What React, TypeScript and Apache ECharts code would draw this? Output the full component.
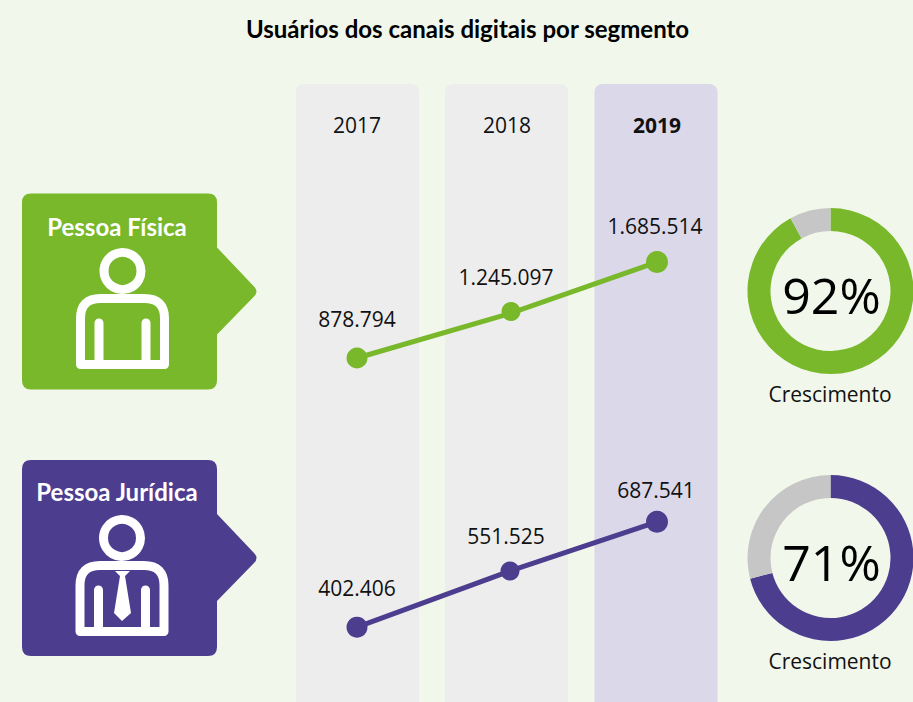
import React, { useEffect, useRef } from "react";
import * as echarts from "echarts";

const title = "Usuários dos canais digitais por segmento";
const years = ["2017", "2018", "2019"];
const pessoaFisica = [878794, 1245097, 1685514];
const pessoaJuridica = [402406, 551525, 687541];
const pointSizesFisica = [21, 19, 22];
const pointSizesJuridica = [21, 19, 22];
const growthFisica = [92, 8];
const growthJuridica = [71, 29];
const growthLabel = "Crescimento";
const segmentFisica = "Pessoa Física";
const segmentJuridica = "Pessoa Jurídica";

const GREEN = "#78B82A";
const PURPLE = "#4D3D8F";
const GRAY = "#C6C6C6";
const BG = "#F1F7EA";
const FONT = "'Open Sans', 'Noto Sans', sans-serif";
const TITLE_FONT = "Lato, 'Open Sans', sans-serif";

const fmt = (v: number) => String(v).replace(/\B(?=(\d{3})+(?!\d))/g, ".");

const TAG_PATH =
  "M9 0 L186 0 Q195 0 195 9 L195 54 L232 93 Q237 98 232 103 L195 141 L195 187 Q195 196 186 196 L9 196 Q0 196 0 187 L0 9 Q0 0 9 0 Z";
const BODY_PATH = "M0 66 L0 20 Q0 0 20 0 L64 0 Q84 0 84 20 L84 66 Z";
echarts.graphic.registerShape("segmentTagShape", (echarts.graphic as any).extendPath(TAG_PATH, {}));
echarts.graphic.registerShape("personBody", (echarts.graphic as any).extendPath(BODY_PATH, {}));

function column(x: number, fill: string) {
  return {
    type: "rect",
    z: -10,
    shape: { x, y: 84, width: 123, height: 630, r: [8, 8, 0, 0] },
    style: { fill },
    silent: true,
  };
}

function person(cx: number, headY: number, bodyTop: number, armTop: number, armBottom: number, tie: boolean) {
  const stroke = { stroke: "#fff", lineWidth: 9, fill: "none" };
  const arms = [cx - 23.5, cx + 23.5].map((x) => ({
    type: "line",
    z: 6,
    shape: { x1: x, y1: armTop, x2: x, y2: armBottom },
    style: { stroke: "#fff", lineWidth: 9, lineCap: "round" },
  }));
  const els: any[] = [
    { type: "circle", z: 6, shape: { cx, cy: headY, r: 18.5 }, style: stroke },
    { type: "personBody", z: 6, x: cx - 42, y: bodyTop, style: { ...stroke, lineJoin: "round" } },
    ...arms,
  ];
  if (tie) {
    els.push({
      type: "polygon",
      z: 6,
      shape: {
        points: [
          [cx - 7, 571],
          [cx + 8, 571],
          [cx + 3, 576],
          [cx + 9, 613],
          [cx, 621],
          [cx - 8, 613],
          [cx - 2, 576],
        ],
      },
      style: { fill: "#fff" },
    });
  }
  return els;
}

function tagText(text: string, x: number, y: number) {
  return {
    type: "text",
    z: 7,
    x,
    y,
    style: {
      text,
      fill: "#fff",
      font: `bold 24px ${TITLE_FONT}`,
      align: "center",
      verticalAlign: "middle",
    },
  };
}

function donut(values: number[], color: string, cy: number) {
  return {
    type: "pie",
    center: [830.5, cy],
    radius: [60, 83],
    startAngle: 90,
    clockwise: true,
    silent: true,
    labelLine: { show: false },
    data: values.map((value, i) => ({
      value,
      itemStyle: { color: i === 0 ? color : GRAY },
      label: {
        show: i === 0,
        position: "center",
        offset: [1, 4],
        formatter: `${value}%`,
        fontSize: 50,
        fontFamily: FONT,
        color: "#000",
      },
    })),
  };
}

function line(
  values: number[],
  sizes: number[],
  color: string,
  idx: number,
  dist: number[],
  midOffset: number[],
  labelOffsets: number[][],
) {
  return {
    type: "line",
    xAxisIndex: idx,
    yAxisIndex: idx,
    silent: true,
    symbol: "circle",
    lineStyle: { color, width: 5 },
    itemStyle: { color },
    data: values.map((value, i) => ({
      value,
      symbolSize: sizes[i],
      symbolOffset: i === 1 ? midOffset : [0, 0],
      label: {
        show: true,
        position: "top",
        distance: dist[i],
        offset: labelOffsets[i],
        formatter: fmt(value),
        fontSize: 21,
        fontFamily: FONT,
        color: "#111",
      },
    })),
  };
}

export default function App() {
  const ref = useRef<HTMLDivElement>(null);
  useEffect(() => {
    document.body.style.margin = "0";
    const chart = echarts.init(ref.current!, undefined, { renderer: "svg" });
    chart.setOption({
      animation: false,
      backgroundColor: BG,
      title: {
        text: title,
        left: 462.5,
        top: 11,
        textAlign: "center",
        textStyle: { fontFamily: TITLE_FONT, fontSize: 24, fontWeight: "bold", color: "#000" },
      },
      grid: [
        { left: 357, right: 256, top: 224.6, height: 238 },
        { left: 357, right: 256, top: 480.2, height: 223 },
      ],
      xAxis: [
        {
          type: "category",
          gridIndex: 0,
          data: years.map((y, i) => (i === years.length - 1 ? { value: y, textStyle: { fontWeight: "bold" } } : y)),
          boundaryGap: false,
          position: "top",
          axisLine: { show: false },
          axisTick: { show: false },
          axisLabel: { margin: 89, fontSize: 21, fontFamily: FONT, color: "#111" },
        },
        {
          type: "category",
          gridIndex: 1,
          data: years,
          boundaryGap: false,
          axisLine: { show: false },
          axisTick: { show: false },
          axisLabel: { show: false },
        },
      ],
      yAxis: [
        { type: "value", gridIndex: 0, min: 0, max: 2000000, show: false },
        { type: "value", gridIndex: 1, min: 200000, max: 800000, show: false },
      ],
      graphic: [
        column(296, "#EDEDED"),
        column(445, "#EDEDED"),
        column(594.5, "#DBD8E9"),
        { type: "segmentTagShape", z: 5, x: 22, y: 193.5, style: { fill: GREEN } },
        { type: "segmentTagShape", z: 5, x: 22, y: 460, style: { fill: PURPLE } },
        tagText(segmentFisica, 117, 226),
        tagText(segmentJuridica, 117, 491),
        ...person(122.5, 271, 298.5, 323, 362, false),
        ...person(122, 538, 565.5, 590, 630, true),
        {
          type: "text",
          x: 830,
          y: 394,
          style: { text: growthLabel, fill: "#111", font: `21px ${FONT}`, align: "center", verticalAlign: "middle" },
        },
        {
          type: "text",
          x: 830,
          y: 661,
          style: { text: growthLabel, fill: "#111", font: `21px ${FONT}`, align: "center", verticalAlign: "middle" },
        },
      ],
      series: [
        line(pessoaFisica, pointSizesFisica, GREEN, 0, [18, 18, 15], [4, -3], [[0, 0], [-5, 4], [-2, 0]]),
        line(pessoaJuridica, pointSizesJuridica, PURPLE, 1, [18, 17, 10], [3, -1], [[0, 0], [-4, 2], [-1, 0]]),
        donut(growthFisica, GREEN, 291),
        donut(growthJuridica, PURPLE, 558),
      ],
    });
    return () => chart.dispose();
  }, []);
  return <div ref={ref} style={{ width: 913, height: 702 }} />;
}
